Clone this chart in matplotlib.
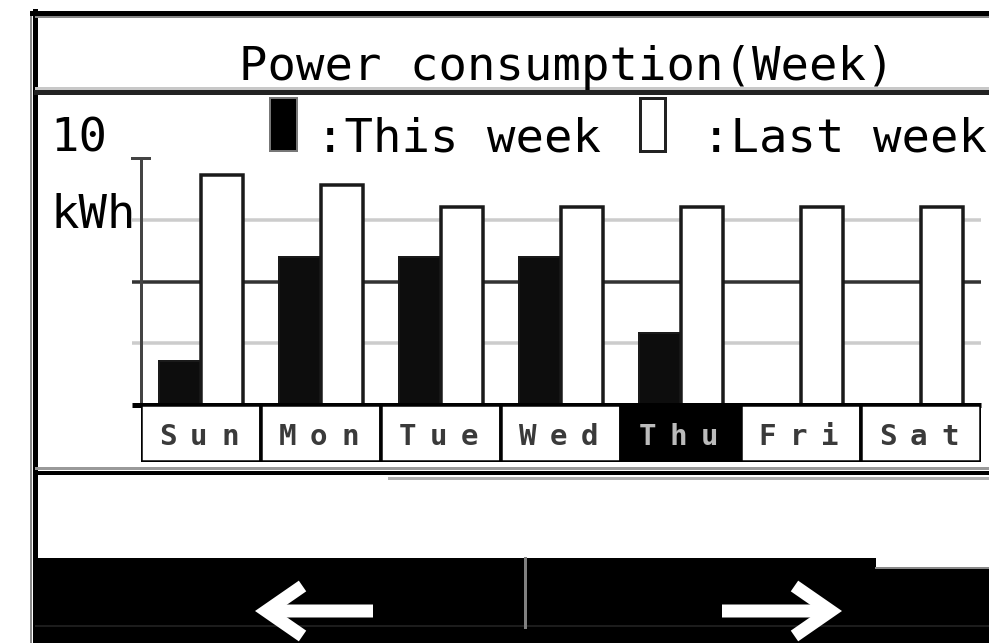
"""
Weekly power consumption screen: this week vs last week, bar chart per day.
"""

import matplotlib
matplotlib.use('Agg')
import matplotlib.pyplot as plt
from matplotlib.patches import Rectangle
import numpy as np

# Daily consumption (kWh)
days = ['Sun', 'Mon', 'Tue', 'Wed', 'Thu', 'Fri', 'Sat']
this_week = [1.8, 6.0, 6.0, 6.0, 2.9, 0.0, 0.0]
last_week = [9.3, 8.9, 8.0, 8.0, 8.0, 8.0, 8.0]
today = 'Thu'
y_max = 10
grid_levels = [2.5, 5.0, 7.5]

title = 'Power consumption(Week)'
legend_this = ':This week'
legend_last = ':Last week'

W, H = 989, 643
DPI = 100
MONO = 'DejaVu Sans Mono'

fig = plt.figure(figsize=(W / DPI, H / DPI), dpi=DPI)
fig.patch.set_facecolor('white')

# --- screen frame, drawn in pixel coordinates ---
scr = fig.add_axes([0, 0, 1, 1])
scr.set_xlim(0, W)
scr.set_ylim(H, 0)
scr.axis('off')

px = 72 / DPI  # points per pixel

# outer border
scr.plot([30.5, 30.5], [15, H], color='#888888', lw=2 * px)
scr.plot([34.5, 34.5], [11, H], color='black', lw=5 * px)
scr.plot([32, W], [13, 13], color='black', lw=5 * px)
scr.plot([36, W], [16.5, 16.5], color='#888888', lw=2 * px)

# line under the title
scr.plot([36, W], [87.5, 87.5], color='#c8c8c8', lw=3 * px)
scr.plot([36, W], [92, 92], color='#222222', lw=5 * px)

# line under the day labels
scr.plot([36, W], [467.5, 467.5], color='#999999', lw=3 * px)
scr.plot([36, W], [472.5, 472.5], color='black', lw=4 * px)
scr.plot([389, W], [477.5, 477.5], color='#b0b0b0', lw=3 * px)

# button bar at the bottom
scr.add_patch(Rectangle((36, 558), 840, H - 558, facecolor='black', edgecolor='none'))
scr.add_patch(Rectangle((876, 568), W - 876, H - 568, facecolor='black', edgecolor='none'))
scr.plot([876, W], [567.5, 567.5], color='#888888', lw=2 * px)
scr.plot([36, W], [626, 626], color='#1c1c1c', lw=2 * px)
scr.plot([525, 525], [558, 627], color='#808080', lw=3 * px)

arrow_kw = dict(arrowstyle='->,head_length=2.6,head_width=1.8',
                color='white', lw=13 * px, shrinkA=0, shrinkB=0,
                capstyle='butt', joinstyle='miter')
scr.annotate('', xy=(255, 611), xytext=(373, 611), arrowprops=arrow_kw)
scr.annotate('', xy=(842, 611), xytext=(722, 611), arrowprops=arrow_kw)

# title and header texts
txt_size = 34
scr.text(567, 80, title, ha='center', va='baseline',
         fontsize=txt_size, family=MONO, color='black')
scr.text(50, 152, '10', ha='left', va='baseline',
         fontsize=txt_size, family=MONO, color='black')
scr.text(50, 228, 'kWh', ha='left', va='baseline',
         fontsize=txt_size, family=MONO, color='black')

# legend swatches
scr.add_patch(Rectangle((270, 98), 27, 53, facecolor='black',
                        edgecolor='#777777', lw=2 * px))
scr.add_patch(Rectangle((640, 98), 25, 53, facecolor='white',
                        edgecolor='#222222', lw=3 * px))
scr.text(316, 152, legend_this, ha='left', va='baseline',
         fontsize=txt_size, family=MONO, color='black')
scr.text(702, 152, legend_last, ha='left', va='baseline',
         fontsize=txt_size, family=MONO, color='black')

# --- bar chart ---
left_px, right_px = 141, 981
top_px, base_px, cell_px = 158, 405, 462
unit = (base_px - top_px) / y_max
y_low = -(cell_px - base_px) / unit

ax = fig.add_axes([left_px / W, 1 - cell_px / H,
                   (right_px - left_px) / W, (cell_px - top_px) / H])
ax.set_xlim(-0.5, len(days) - 0.5)
ax.set_ylim(y_low, y_max)
ax.patch.set_alpha(0)
ax.axis('off')

x = np.arange(len(days))
bar_w = 0.35
tick_left = -0.5 - 9 / 120

# grid lines behind the bars
for lvl, col in zip(grid_levels, ['#cccccc', '#333333', '#cccccc']):
    ax.plot([tick_left, len(days) - 0.5], [lvl, lvl], color=col,
            lw=3.5 * px, zorder=1, clip_on=False, solid_capstyle='butt')
ax.plot([tick_left, -0.5 + 8 / 120], [y_max, y_max], color='#444444',
        lw=3 * px, zorder=1, clip_on=False)
ax.plot([-0.5, -0.5], [0, y_max], color='#444444', lw=3 * px, zorder=1,
        clip_on=False)

ax.bar(x, this_week, width=-bar_w, align='edge', color='#0d0d0d',
       edgecolor='#1a1a1a', lw=2 * px, zorder=2)
ax.bar(x, last_week, width=bar_w, align='edge', color='white',
       edgecolor='#1a1a1a', lw=3.5 * px, zorder=2)

ax.plot([tick_left, len(days) - 0.5], [0, 0], color='black',
        lw=5 * px, zorder=3, clip_on=False, solid_capstyle='butt')

# day label cells
for i, d in enumerate(days):
    cur = d == today
    ax.add_patch(Rectangle((i - 0.5, y_low), 1, -y_low,
                           facecolor='black' if cur else 'white',
                           edgecolor='black', lw=3.5 * px, zorder=3))
    for k, ch in enumerate(d):
        ax.text(i + (k - 1) * 0.26 - 0.02, y_low * 0.7, ch, ha='center',
                va='baseline', fontsize=21, family=MONO, fontweight='bold',
                color='#bbbbbb' if cur else '#3a3a3a', zorder=4)

fig.savefig('out.png', dpi=DPI)
